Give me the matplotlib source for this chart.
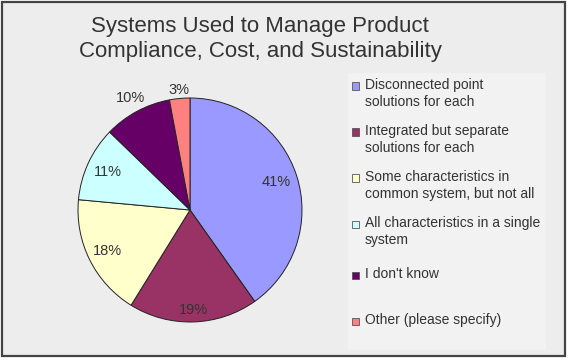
import numpy as np
import matplotlib.pyplot as plt
from matplotlib.patches import Rectangle

plt.rcParams['font.family'] = ['Liberation Sans', 'DejaVu Sans']

# chart data
title = 'Systems Used to Manage Product\nCompliance, Cost, and Sustainability'
labels = ['Disconnected point\nsolutions for each',
          'Integrated but separate\nsolutions for each',
          'Some characteristics in\ncommon system, but not all',
          'All characteristics in a single\nsystem',
          "I don't know",
          'Other (please specify)']
values = [41, 19, 18, 11, 10, 3]
colors = ['#9999FF', '#993366', '#FFFFCC', '#CCFFFF', '#660066', '#FF8080']
label_dist = [0.81, 0.89, 0.82, 0.81, 1.13, 1.08]

W, H = 570, 360
fig = plt.figure(figsize=(W/100, H/100), dpi=100)
fig.patch.set_facecolor('white')

def px(x, y, w, h):
    # pixel box (top-left origin) -> figure fraction
    return [x/W, 1 - (y + h)/H, w/W, h/H]

# background panel with dark border
bg = Rectangle((1.5/W, 1 - 356/H), 563/W, 354.5/H, transform=fig.transFigure,
               facecolor='#EDEDED', edgecolor='#444444', linewidth=1.6, zorder=0)
fig.patches.append(bg)

# legend panel
lg = Rectangle((348/W, 1 - 350/H), 198/W, 277/H, transform=fig.transFigure,
               facecolor='#F2F2F2', edgecolor='none', zorder=0.5)
fig.patches.append(lg)

fig.text(260/W, 1 - 39/H, title, ha='center', va='center', fontsize=16,
         color='#333333', linespacing=1.25)

# pie
cx, cy, r = 190, 210, 112
ax = fig.add_axes(px(cx - r, cy - r, 2*r, 2*r))
ax.set_zorder(1)
ax.set_facecolor('none')
wedges, _ = ax.pie(values, colors=colors, startangle=90, counterclock=False,
                   wedgeprops=dict(edgecolor='#222222', linewidth=0.7))
ax.set_xlim(-1, 1)
ax.set_ylim(-1, 1)
ax.set_aspect('equal')
ax.axis('off')

total = float(sum(values))
start = 90.0
for v, d in zip(values, label_dist):
    span = 360.0 * v / total
    mid = np.deg2rad(start - span / 2)
    ax.text(d*np.cos(mid), d*np.sin(mid), '%d%%' % v, ha='center', va='center',
            fontsize=10.5, color='#333333', clip_on=False)
    start -= span

# legend entries
y0, step = 86, 46
for i, (lab, col) in enumerate(zip(labels, colors)):
    y = y0 + i*step + (0 if '\n' in lab else 5)
    sq = Rectangle((352/W, 1 - (y + 3.5)/H), 7/W, 7/H, transform=fig.transFigure,
                   facecolor=col, edgecolor='#555555', linewidth=0.6, zorder=2)
    fig.patches.append(sq)
    fig.text(365/W, 1 - (y - 8)/H, lab, ha='left', va='top', fontsize=10,
             color='#333333', linespacing=1.25)

fig.savefig('out.png', dpi=100)
